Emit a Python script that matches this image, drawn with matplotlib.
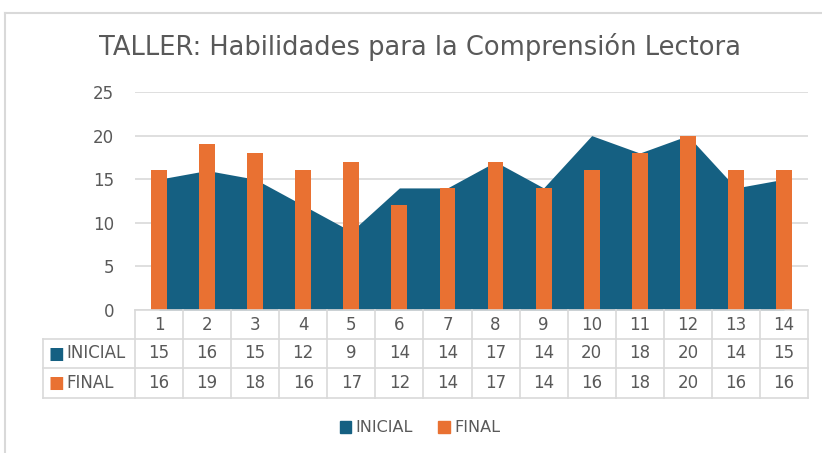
import matplotlib.pyplot as plt
from matplotlib.patches import Patch
from matplotlib.transforms import blended_transform_factory
from matplotlib.lines import Line2D
import numpy as np

# data
sessions = ['1', '2', '3', '4', '5', '6', '7', '8', '9', '10', '11', '12', '13', '14']
inicial = [15, 16, 15, 12, 9, 14, 14, 17, 14, 20, 18, 20, 14, 15]
final = [16, 19, 18, 16, 17, 12, 14, 17, 14, 16, 18, 20, 16, 16]

BLUE = '#156082'
ORANGE = '#E97132'
GRID = '#D9D9D9'
TXT = '#595959'

W, H = 822, 453
fig = plt.figure(figsize=(W / 100, H / 100), dpi=100)

def fy(py):
    return 1 - py / H

ax = fig.add_axes([135 / W, fy(310), (808 - 135) / W, (310 - 92) / H])
x = np.arange(len(sessions))

ax.fill_between(x, inicial, color=BLUE, lw=0, zorder=1)
ax.bar(x, final, width=0.33, color=ORANGE, zorder=2)

ax.set_xlim(-0.5, len(sessions) - 0.5)
ax.set_ylim(0, 25)
ax.set_yticks([0, 5, 10, 15, 20, 25])
ax.grid(axis='y', color=GRID, lw=1.2, zorder=0)
ax.set_axisbelow(True)
for s in ax.spines.values():
    s.set_visible(False)
ax.tick_params(axis='y', length=0, pad=15, labelsize=12, labelcolor=TXT)
ax.set_xticks([])

# title
fig.text(420 / W, fy(47), 'TALLER: Habilidades para la Comprensión Lectora',
         ha='center', va='center', fontsize=18.5, color=TXT)

# data table below the axis
tr = blended_transform_factory(ax.transData, fig.transFigure)
row_edges = [310, 339, 368, 398]
lab_left = -0.5 - (135 - 43) / 48.0
n = len(sessions)

def hline(x0, x1, py):
    fig.add_artist(Line2D([x0, x1], [fy(py), fy(py)], transform=tr, color=GRID, lw=1.2))

def vline(xv, p0, p1):
    fig.add_artist(Line2D([xv, xv], [fy(p0), fy(p1)], transform=tr, color=GRID, lw=1.2))

hline(-0.5, n - 0.5, 310)
for py in row_edges[1:]:
    hline(lab_left, n - 0.5, py)
for i in range(n + 1):
    vline(i - 0.5, 310, 398)
vline(lab_left, 339, 398)

def rowmid(r):
    return fy((row_edges[r] + row_edges[r + 1]) / 2)

for i, s in enumerate(sessions):
    fig.text(i, rowmid(0), s, transform=tr, ha='center', va='center', fontsize=12, color=TXT)
    fig.text(i, rowmid(1), str(inicial[i]), transform=tr, ha='center', va='center', fontsize=12, color=TXT)
    fig.text(i, rowmid(2), str(final[i]), transform=tr, ha='center', va='center', fontsize=12, color=TXT)

for r, (name, col) in enumerate([('INICIAL', BLUE), ('FINAL', ORANGE)], start=1):
    fig.text(48 / W, rowmid(r), '\u25A0', ha='left', va='center', fontsize=12, color=col)
    fig.text(66 / W, rowmid(r), name, ha='left', va='center', fontsize=12, color=TXT)

# legend
handles = [Patch(color=BLUE, label='INICIAL'), Patch(color=ORANGE, label='FINAL')]
fig.legend(handles=handles, loc='center', bbox_to_anchor=(420 / W, fy(428)), ncol=2,
           frameon=False, handlelength=0.7, handleheight=0.7, handletextpad=0.3,
           columnspacing=1.6, prop={'size': 11.5}, labelcolor=TXT)

# chart frame
fig.add_artist(Line2D([5 / W, 1], [fy(13), fy(13)], color=GRID, lw=1.5))
fig.add_artist(Line2D([5 / W, 5 / W], [fy(13), 0], color=GRID, lw=1.5))

fig.savefig('out.png', dpi=100)
